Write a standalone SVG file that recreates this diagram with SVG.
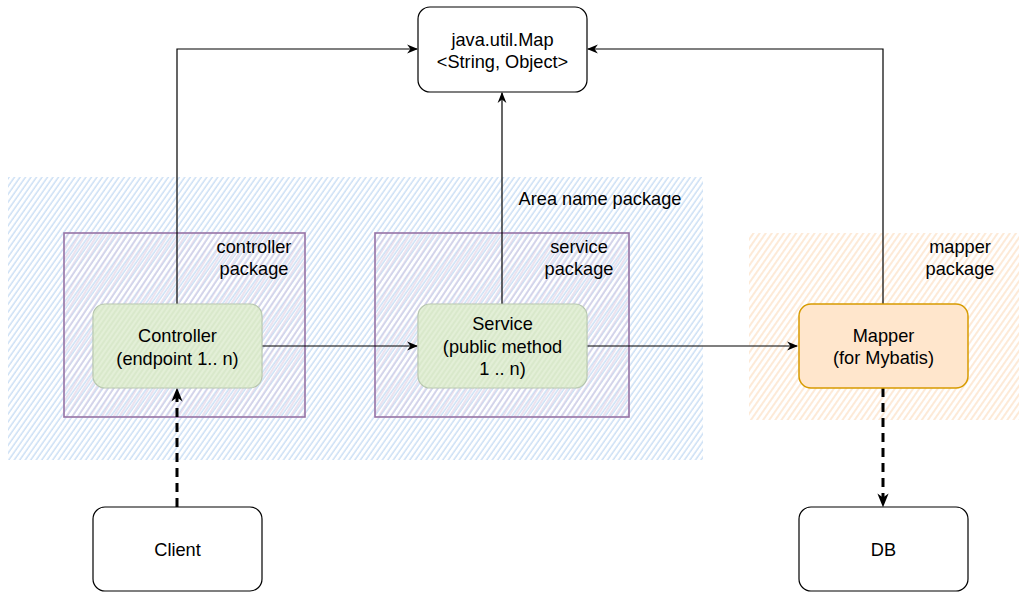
<svg xmlns="http://www.w3.org/2000/svg" width="1024" height="600" viewBox="0 0 1024 600">
  <defs>
    <pattern id="hatchBlue" patternUnits="userSpaceOnUse" width="4.5" height="10" patternTransform="rotate(35)">
      <line x1="1" y1="0" x2="1" y2="10" stroke="#b3d0f0" stroke-width="1"/>
    </pattern>
    <pattern id="hatchPurple" patternUnits="userSpaceOnUse" width="5" height="10" patternTransform="rotate(32)">
      <line x1="2" y1="0" x2="2" y2="10" stroke="#d3bfda" stroke-width="0.9"/>
    </pattern>
    <pattern id="hatchOrange" patternUnits="userSpaceOnUse" width="5" height="10" patternTransform="rotate(35)">
      <line x1="1" y1="0" x2="1" y2="10" stroke="#fcdcbd" stroke-width="1.2"/>
    </pattern>
    <pattern id="hatchGreen" patternUnits="userSpaceOnUse" width="4" height="10" patternTransform="rotate(35)">
      <line x1="1" y1="0" x2="1" y2="10" stroke="#cfe2bf" stroke-width="1"/>
    </pattern>
    <marker id="arrow" viewBox="0 0 10 10" refX="9" refY="5" markerWidth="11" markerHeight="11" markerUnits="userSpaceOnUse" orient="auto">
      <path d="M0,1 L10,5 L0,9 L3,5 z" fill="#000"/>
    </marker>
    <marker id="arrowBig" viewBox="0 0 10 10" refX="9" refY="5" markerWidth="14" markerHeight="14" markerUnits="userSpaceOnUse" orient="auto">
      <path d="M0,1 L10,5 L0,9 L3,5 z" fill="#000"/>
    </marker>
  </defs>
  <style>
    text { font-family: "Liberation Sans", Arial, Helvetica, sans-serif; font-size: 18.2px; fill: #000; }
    .c { text-anchor: middle; }
    .node { stroke: #000; stroke-width: 1.2; fill: #fff; }
    .pkg { stroke: #9673a6; stroke-width: 1.6; }
    .edge { fill: none; stroke: #000; stroke-width: 1.2; }
    .dash { fill: none; stroke: #000; stroke-width: 3; stroke-dasharray: 9 6; }
  </style>

  <rect width="1024" height="600" fill="#fff"/>

  <!-- area and package regions -->
  <g id="area-name-package">
    <rect x="8" y="177" width="695" height="283" fill="url(#hatchBlue)"/>
    <text class="c" x="600" y="205">Area name package</text>
  </g>
  <g id="mapper-package">
    <rect x="749" y="233" width="270" height="187" fill="url(#hatchOrange)"/>
    <text class="c" x="960" y="253">mapper</text>
    <text class="c" x="960" y="275">package</text>
  </g>
  <g id="controller-package">
    <rect class="pkg" x="64" y="233" width="241" height="184" fill="url(#hatchPurple)"/>
    <text class="c" x="254" y="253">controller</text>
    <text class="c" x="254" y="275">package</text>
  </g>
  <g id="service-package">
    <rect class="pkg" x="375" y="233" width="254" height="184" fill="url(#hatchPurple)"/>
    <text class="c" x="579" y="253">service</text>
    <text class="c" x="579" y="275">package</text>
  </g>

  <!-- connectors -->
  <g id="connectors">
    <path class="edge" d="M177,304 V49 H417" marker-end="url(#arrow)"/>
    <path class="edge" d="M502,304 V93" marker-end="url(#arrow)"/>
    <path class="edge" d="M883,304 V49 H588" marker-end="url(#arrow)"/>
    <path class="edge" d="M262,346 H417" marker-end="url(#arrow)"/>
    <path class="edge" d="M587,346 H797" marker-end="url(#arrow)"/>
    <path class="dash" d="M177,507 V389" marker-end="url(#arrowBig)"/>
    <path class="dash" d="M883,388 V506" marker-end="url(#arrowBig)"/>
  </g>

  <!-- nodes -->
  <g id="map">
    <rect class="node" x="418" y="7" width="169" height="85" rx="12"/>
    <text class="c" x="502.5" y="46">java.util.Map</text>
    <text class="c" x="502.5" y="68">&lt;String, Object&gt;</text>
  </g>
  <g id="controller">
    <rect x="93" y="304" width="169" height="84" rx="12" fill="#e3efd7" stroke="#b5c4ad" stroke-width="1.2"/>
    <rect x="93" y="304" width="169" height="84" rx="12" fill="url(#hatchGreen)"/>
    <text class="c" x="177.5" y="342">Controller</text>
    <text class="c" x="177.5" y="365">(endpoint 1.. n)</text>
  </g>
  <g id="service">
    <rect x="418" y="304" width="169" height="84" rx="12" fill="#e3efd7" stroke="#b5c4ad" stroke-width="1.2"/>
    <rect x="418" y="304" width="169" height="84" rx="12" fill="url(#hatchGreen)"/>
    <text class="c" x="502.5" y="330">Service</text>
    <text class="c" x="502.5" y="353">(public method</text>
    <text class="c" x="502.5" y="375">1 .. n)</text>
  </g>
  <g id="mapper">
    <rect x="799" y="304" width="169" height="84" rx="12" fill="#ffe6cc" stroke="#d79b00" stroke-width="1.5"/>
    <text class="c" x="883.5" y="342">Mapper</text>
    <text class="c" x="883.5" y="364">(for Mybatis)</text>
  </g>
  <g id="client">
    <rect class="node" x="93" y="507" width="169" height="84" rx="12"/>
    <text class="c" x="177.5" y="556">Client</text>
  </g>
  <g id="db">
    <rect class="node" x="799" y="507" width="169" height="84" rx="12"/>
    <text class="c" x="883.5" y="556">DB</text>
  </g>
</svg>
